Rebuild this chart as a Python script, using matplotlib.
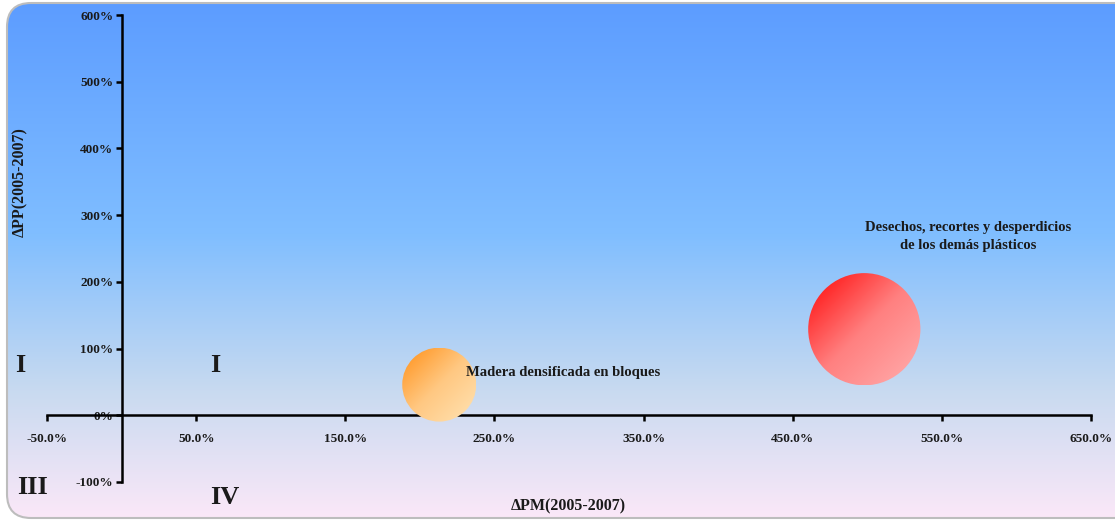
import numpy as np
import matplotlib
matplotlib.use("Agg")
import matplotlib.pyplot as plt
from matplotlib.patches import Circle, FancyBboxPatch
from matplotlib.transforms import IdentityTransform
from matplotlib.ticker import FuncFormatter

plt.rcParams['font.family'] = ['Liberation Serif', 'DejaVu Serif']
plt.rcParams['font.weight'] = 'bold'

# data: variacion PM (x), variacion PP (y), tamaño relativo
productos = ["Madera densificada en bloques",
             "Desechos, recortes y desperdicios\nde los demás plásticos"]
delta_pm = [213.0, 498.0]
delta_pp = [46.0, 129.0]
tamano = [1.0, 2.3]
xticks = [-50, 50, 150, 250, 350, 450, 550, 650]
yticks = [-100, 0, 100, 200, 300, 400, 500, 600]

W, H = 1115, 521
fig = plt.figure(figsize=(W / 100, H / 100), dpi=100)
fig.patch.set_facecolor('white')

# background panel with vertical gradient
bg = fig.add_axes([0, 0, 1, 1], zorder=-10)
bg.set_xlim(0, W)
bg.set_ylim(H, 0)
bg.axis('off')
stops = np.array([0.0, 0.45, 0.75, 1.0])
cols = np.array([[92, 156, 255], [128, 190, 255], [200, 218, 240], [252, 232, 248]]) / 255.
t = np.linspace(0, 1, 256)
grad = np.stack([np.interp(t, stops, cols[:, i]) for i in range(3)], axis=1)[:, None, :]
frame = FancyBboxPatch((27, 23), W + 40, H - 46, boxstyle="round,pad=20,rounding_size=24",
                       fc='none', ec='#bdbdbd', lw=1.5, zorder=2)
bg.add_patch(frame)
im = bg.imshow(grad, extent=[0, W, H, 0], aspect='auto', zorder=1)
im.set_clip_path(frame)

ax = fig.add_axes([47 / W, 39 / H, 1044 / W, 467 / H])
ax.set_xlim(-50, 650)
ax.set_ylim(-100, 600)
ax.patch.set_alpha(0)
for s in ['top', 'right']:
    ax.spines[s].set_visible(False)
ax.spines['left'].set_position(('data', 0))
ax.spines['bottom'].set_position(('data', 0))
ax.spines['left'].set_linewidth(1.8)
ax.spines['bottom'].set_linewidth(1.8)
ax.set_xticks(xticks)
ax.set_yticks(yticks)
ax.xaxis.set_major_formatter(FuncFormatter(lambda v, p: "%.1f%%" % v))
ax.yaxis.set_major_formatter(FuncFormatter(lambda v, p: "%d%%" % v))
ax.tick_params(axis='x', direction='out', length=4, width=1.8, pad=9, labelsize=9.5,
               labelcolor='#1a1a1a')
ax.tick_params(axis='y', direction='out', length=4, width=1.8, pad=2, labelsize=9.5,
               labelcolor='#1a1a1a')

# bubbles with diagonal gradient
grads = [([255, 155, 45], [255, 200, 130], [255, 222, 170]),
         ([255, 30, 30], [255, 128, 128], [255, 165, 165])]
n = 200
yy, xx = np.mgrid[0:n, 0:n] / (n - 1)
u = (xx + yy) / 2.0
fig.canvas.draw()
for i in range(len(delta_pm)):
    cx, cy = ax.transData.transform((delta_pm[i], delta_pp[i]))
    r = 37 * np.sqrt(tamano[i])
    c0, c1, c2 = [np.array(c) / 255. for c in grads[i]]
    img = np.zeros((n, n, 3))
    for k in range(3):
        img[..., k] = np.interp(u, [0.1, 0.5, 0.9], [c0[k], c1[k], c2[k]])
    inv = ax.transData.inverted()
    x0, y0 = inv.transform((cx - r, cy - r))
    x1, y1 = inv.transform((cx + r, cy + r))
    circ = Circle((cx, cy), r, transform=IdentityTransform(), fc='none', ec='none')
    bim = ax.imshow(img, extent=[x0, x1, y0, y1], aspect='auto', zorder=3,
                    interpolation='bilinear')
    bim.set_clip_path(circ)
ax.set_xlim(-50, 650)
ax.set_ylim(-100, 600)

ax.annotate(productos[0], (delta_pm[0], delta_pp[0]), xytext=(19, 9),
            textcoords='offset points', ha='left', va='center', fontsize=10.5, color='#1a1a1a', zorder=5)
ax.annotate(productos[1], (delta_pm[1], delta_pp[1]), xytext=(75, 67),
            textcoords='offset points', ha='center', va='center', fontsize=10.5, color='#1a1a1a',
            linespacing=1.5, zorder=5)

# quadrant labels and axis titles
def px(x, y):
    return x / W, 1 - y / H

for lab, (x, y) in [("I", (20, 365)), ("I", (215, 365)), ("III", (32, 487)), ("IV", (225, 498))]:
    fig.text(*px(x, y), lab, fontsize=19, ha='center', va='center', color='#1a1a1a')
fig.text(*px(568, 506), "ΔPM(2005-2007)", fontsize=11.5, ha='center', va='center', color='#1a1a1a')
fig.text(*px(20, 182), "ΔPP(2005-2007)", fontsize=11.5, ha='center', va='center', rotation=90,
         color='#1a1a1a')

fig.savefig("out.png", dpi=100)
